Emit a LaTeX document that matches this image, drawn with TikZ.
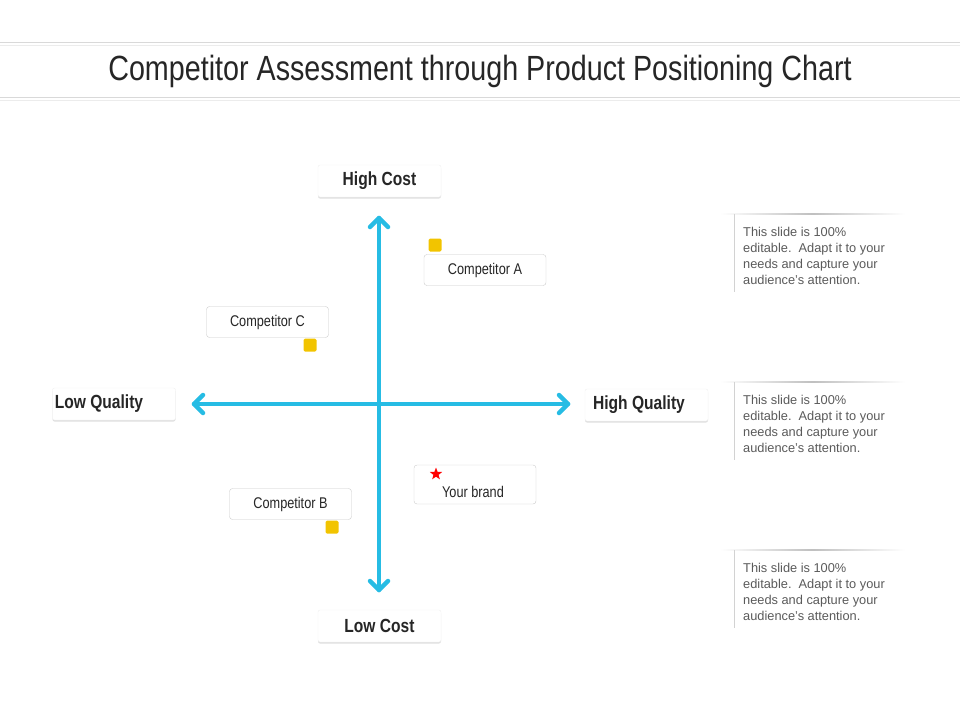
\documentclass[tikz,border=0pt]{standalone}
\usepackage{fontspec}
\setmainfont{Liberation Sans}
\newfontfamily\narrow[FakeStretch=0.82]{Liberation Sans}
\usetikzlibrary{shadows,shapes.geometric,calc}
\definecolor{axis}{RGB}{38,188,228}
\definecolor{sq}{RGB}{242,196,0}
\definecolor{txt}{RGB}{90,90,90}
\tikzset{
 lab/.style={minimum width=123pt,minimum height=32pt,fill=white,rounded corners=2pt,draw=gray!12,
   drop shadow={shadow xshift=0pt,shadow yshift=-1.5pt,opacity=.25},font=\narrow\fontsize{19}{22}\selectfont\bfseries,text=black!85},
 comp/.style={minimum width=122pt,minimum height=31pt,fill=white,rounded corners=3pt,draw=gray!40,font=\narrow\fontsize{15.5}{18}\selectfont,text=black!85},
 sqr/.style={fill=sq,rounded corners=1.5pt,minimum size=13pt,inner sep=0pt},
 note/.style={anchor=north west,align=left,font=\fontsize{12.8}{16}\selectfont,text=txt,inner sep=0pt},
 ax/.style={line width=4.5pt,draw=axis,line cap=round}
}
\begin{document}
\begin{tikzpicture}[x=1pt,y=-1pt]
\useasboundingbox (0,0) rectangle (960,720);
\draw[gray!30,line width=1pt] (0,42)--(960,42) (0,97)--(960,97);
\draw[gray!15,line width=1pt] (0,45)--(960,45) (0,100)--(960,100);
\node[font=\narrow\fontsize{35}{40}\selectfont,text=black!85] (title) at (480,71) {Competitor Assessment through Product Positioning Chart};
\node[lab] (hc) at (379.5,181) {High Cost};
\node[lab] (lc) at (379.5,626) {Low Cost};
\node[lab] (lq) at (114,404) {\hspace{-30pt}Low Quality};
\node[lab] (hq) at (646.5,405) {\hspace{-15pt}High Quality};
\coordinate (top) at (379,218); \coordinate (bot) at (379,590);
\coordinate (lft) at (194,404); \coordinate (rgt) at (568,404);
\draw[ax] (top)--(bot); \draw[ax] (lft)--(rgt);
\draw[ax,line join=round] ($(top)+(-9,9)$)--(top)--($(top)+(9,9)$);
\draw[ax,line join=round] ($(bot)+(-9,-9)$)--(bot)--($(bot)+(9,-9)$);
\draw[ax,line join=round] ($(lft)+(9,-9)$)--(lft)--($(lft)+(9,9)$);
\draw[ax,line join=round] ($(rgt)+(-9,-9)$)--(rgt)--($(rgt)+(-9,9)$);
\node[comp] (ca) at (485,270) {Competitor A};
\node[sqr] (sa) at (435,245) {};
\node[comp] (cc) at (267.5,322) {Competitor C};
\node[sqr] (sc) at (310,345) {};
\node[comp] (cb) at (290.5,504) {Competitor B};
\node[sqr] (sb) at (332,527) {};
\node[comp,minimum height=39pt] (yb) at (475,484.5) {};
\node[font=\narrow\fontsize{15.5}{18}\selectfont,text=black!85] (ybt) at (473,492) {Your brand};
\node[star,star points=5,star point ratio=2.4,fill=red,inner sep=0pt,minimum size=13pt] (st) at (436,474) {};
\foreach \y/\n in {214/n1,382/n2,550/n3}{
  \shade[left color=white,right color=white,middle color=gray!50] (720,\y-0.6) rectangle (905,\y+0.6);
  \draw[gray!35,line width=1pt] (734,\y)--(734,\y+78);
  \node[note] (\n) at (743,\y+13) {This slide is 100\%\\editable.\ \ Adapt it to your\\needs and capture your\\audience's attention.};
}
\end{tikzpicture}
\end{document}
